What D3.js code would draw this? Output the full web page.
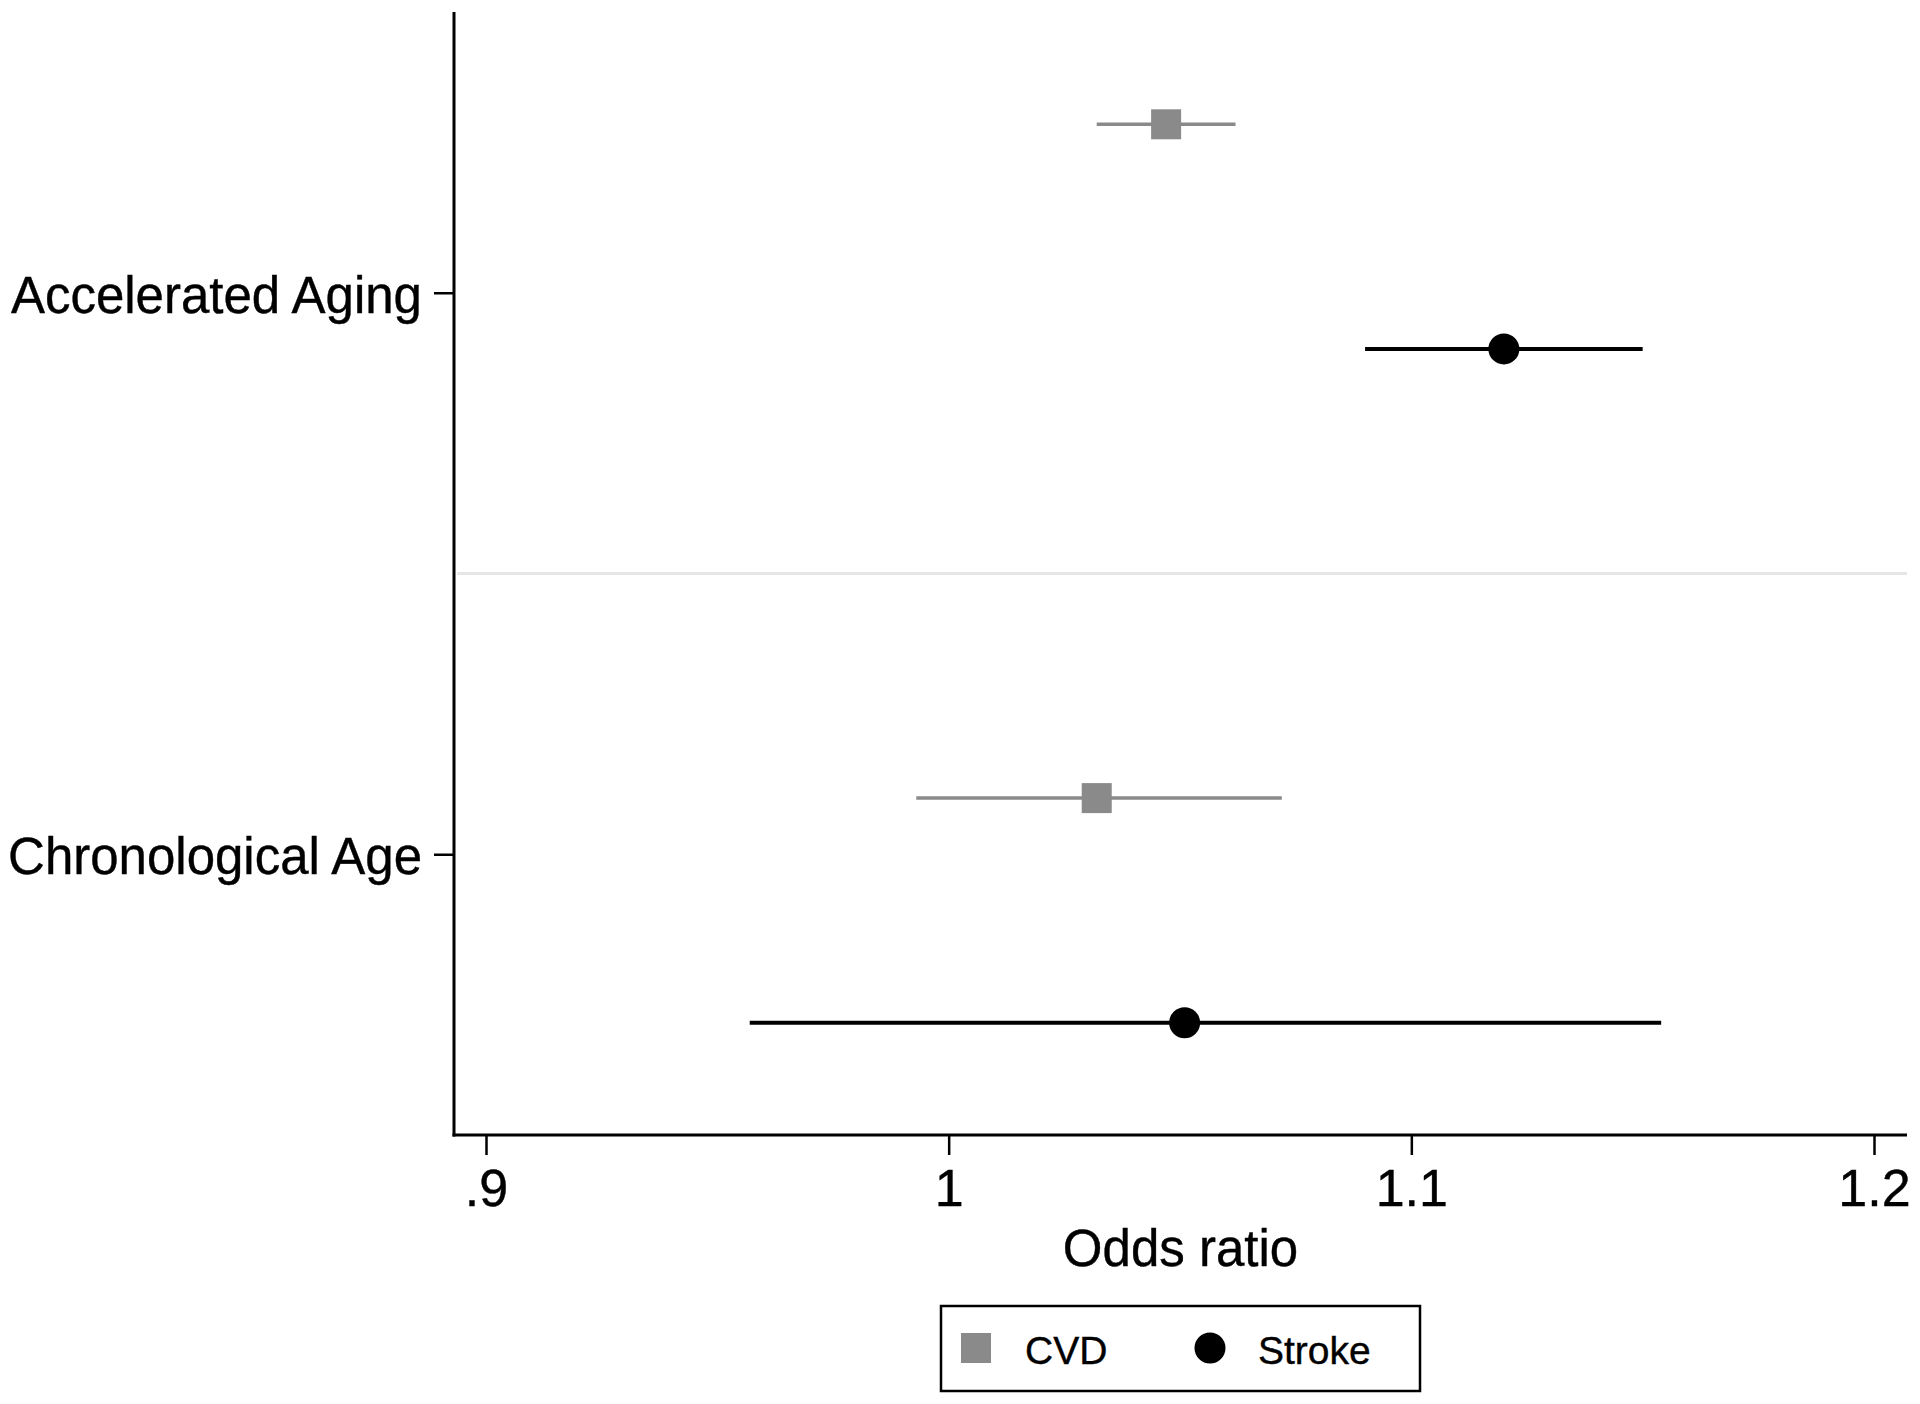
<!DOCTYPE html>
<html>
<head>
<meta charset="utf-8">
<script src="https://cdn.jsdelivr.net/npm/d3@7"></script>
<style>
  html, body { margin: 0; padding: 0; background: #ffffff; }
  svg { display: block; }
  text { font-family: "Liberation Sans", Arial, Helvetica, sans-serif; fill: #000; stroke: #000; stroke-width: 0.4px; }
</style>
</head>
<body>
<svg id="chart" width="1920" height="1404"></svg>
<script>
// ---- data ----
const categories = ["Accelerated Aging", "Chronological Age"];
const seriesNames = ["CVD", "Stroke"];
const cvdEstimate = [1.047, 1.032];
const cvdLower    = [1.032, 0.993];
const cvdUpper    = [1.062, 1.072];
const strokeEstimate = [1.120, 1.051];
const strokeLower    = [1.090, 0.957];
const strokeUpper    = [1.150, 1.154];
const xTickValues = [0.9, 1.0, 1.1, 1.2];
const xTickLabels = [".9", "1", "1.1", "1.2"];
const xTitle = "Odds ratio";

// ---- layout ----
const svg = d3.select("#chart");
const plotLeft = 454, plotRight = 1907, plotTop = 12, plotBottom = 1135;
const x = d3.scaleLinear().domain([0.9, 1.2]).range([486, 1874]);
const y = d3.scaleLinear().domain([-0.5, 4.5]).range([plotTop, plotBottom]);
const labelRows = [0.75, 3.25];
const separatorRow = 2;
const seriesColor = { CVD: "#8a8a8a", Stroke: "#000000" };

const rows = [];
categories.forEach((c, i) => {
  rows.push({ series: "CVD", row: i * 3, est: cvdEstimate[i], lo: cvdLower[i], hi: cvdUpper[i] });
  rows.push({ series: "Stroke", row: i * 3 + 1, est: strokeEstimate[i], lo: strokeLower[i], hi: strokeUpper[i] });
});

// separator
svg.append("line")
  .attr("x1", plotLeft + 3).attr("x2", plotRight)
  .attr("y1", y(separatorRow)).attr("y2", y(separatorRow))
  .attr("stroke", "#e6e6e6").attr("stroke-width", 3);

// x axis
const xAxis = d3.axisBottom(x)
  .tickValues(xTickValues)
  .tickFormat((d, i) => xTickLabels[i])
  .tickSizeInner(20).tickSizeOuter(0).tickPadding(14);
const gx = svg.append("g").attr("transform", `translate(0,${plotBottom})`).call(xAxis);
gx.select(".domain").remove();
gx.selectAll(".tick line").attr("stroke", "#000").attr("stroke-width", 2.5);
gx.selectAll(".tick text").attr("font-size", 52).attr("fill", "#000")
  .attr("font-family", "'Liberation Sans', Arial, Helvetica, sans-serif");
svg.append("line")
  .attr("x1", plotLeft - 1.5).attr("x2", plotRight)
  .attr("y1", plotBottom).attr("y2", plotBottom)
  .attr("stroke", "#000").attr("stroke-width", 3);

// y axis
const yAxis = d3.axisLeft(y)
  .tickValues(labelRows)
  .tickFormat((d, i) => categories[i])
  .tickSizeInner(20).tickSizeOuter(0).tickPadding(12);
const gy = svg.append("g").attr("transform", `translate(${plotLeft},0)`).call(yAxis);
gy.select(".domain").remove();
gy.selectAll(".tick line").attr("stroke", "#000").attr("stroke-width", 2.5);
gy.selectAll(".tick text").attr("font-size", 51).attr("fill", "#000")
  .attr("dy", "0.38em")
  .attr("font-family", "'Liberation Sans', Arial, Helvetica, sans-serif");
svg.append("line")
  .attr("x1", plotLeft).attr("x2", plotLeft)
  .attr("y1", plotTop).attr("y2", plotBottom + 1.5)
  .attr("stroke", "#000").attr("stroke-width", 3);

// CI lines
svg.append("g").selectAll("line").data(rows).join("line")
  .attr("x1", d => x(d.lo)).attr("x2", d => x(d.hi))
  .attr("y1", d => y(d.row)).attr("y2", d => y(d.row))
  .attr("stroke", d => seriesColor[d.series])
  .attr("stroke-width", d => d.series === "CVD" ? 3.5 : 4);

// markers
const sq = 30;
svg.append("g").selectAll("rect").data(rows.filter(d => d.series === "CVD")).join("rect")
  .attr("x", d => x(d.est) - sq / 2).attr("y", d => y(d.row) - sq / 2)
  .attr("width", sq).attr("height", sq)
  .attr("fill", seriesColor.CVD);
svg.append("g").selectAll("circle").data(rows.filter(d => d.series === "Stroke")).join("circle")
  .attr("cx", d => x(d.est)).attr("cy", d => y(d.row)).attr("r", 15.5)
  .attr("fill", seriesColor.Stroke);

// x title
svg.append("text")
  .attr("x", (plotLeft + plotRight) / 2).attr("y", 1266)
  .attr("text-anchor", "middle").attr("font-size", 51)
  .text(xTitle);

// legend
const lg = svg.append("g");
lg.append("rect").attr("x", 941).attr("y", 1306).attr("width", 479).attr("height", 85)
  .attr("fill", "#fff").attr("stroke", "#000").attr("stroke-width", 2.5);
lg.append("rect").attr("x", 961).attr("y", 1333).attr("width", 30).attr("height", 30)
  .attr("fill", seriesColor.CVD);
lg.append("text").attr("x", 1025).attr("y", 1364).attr("font-size", 39).text(seriesNames[0]);
lg.append("circle").attr("cx", 1210).attr("cy", 1348).attr("r", 15.5).attr("fill", seriesColor.Stroke);
lg.append("text").attr("x", 1258).attr("y", 1364).attr("font-size", 39).text(seriesNames[1]);
</script>
</body>
</html>
